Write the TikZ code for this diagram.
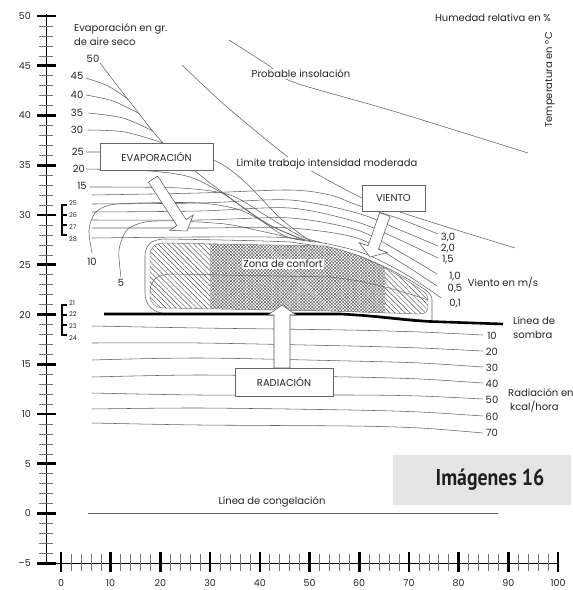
\documentclass[tikz,border=0pt]{standalone}
\usepackage{fontspec}
\setmainfont{Poppins}
\newfontfamily\stampfont[FakeStretch=0.86]{PT Sans}
\usetikzlibrary{patterns.meta}
\begin{document}
\begin{tikzpicture}[x=1pt,y=-1pt,
  gline/.style={draw=black!62,line width=0.55pt},
  lbl/.style={inner sep=0pt,font=\fontsize{10}{12}\selectfont,text=black!85},
  num/.style={inner sep=0pt,font=\fontsize{10}{12}\selectfont,text=black!85},
  axnum/.style={inner sep=0pt,font=\fontsize{9.5}{11}\selectfont,text=black!85},
  tinynum/.style={inner sep=0pt,font=\fontsize{6.5}{7}\selectfont,text=black!85},
  cutlbl/.style={lbl,fill=white,inner sep=1.5pt},
  tagbox/.style={draw=black!60,fill=white,line width=0.5pt,inner sep=0pt,font=\fontsize{10}{12}\selectfont,text=black!85},
  blockarr/.style={draw=black!65,fill=white,line width=0.55pt,line join=miter},
  majtick/.style={line width=2.6pt,black},
  mintick/.style={line width=0.5pt,black!55},
]
\useasboundingbox (0,0) rectangle (573,590);
\fill[white] (0,0) rectangle (573,590);

% ---------------- axes ----------------
\draw[line width=0.8pt] (46,14) -- (46,563.25);
\draw[line width=0.8pt] (46,563.25) -- (558,563.25);
\foreach \t in {-5,...,50}{\draw[mintick] (39,{513.5-9.95*\t}) -- (53,{513.5-9.95*\t});}
\foreach \t in {-5,0,5,...,50}{\draw[majtick] (37,{513.5-9.95*\t}) -- (56,{513.5-9.95*\t});}
\foreach \t in {0,5,...,50}{\node[axnum,anchor=east] (yl\t) at (31,{513.5-9.95*\t}) {\t};}
\node[axnum,anchor=east] (ylm5) at (31,563.25) {–5};
\foreach \h in {0,2,...,100}{\draw[mintick] ({61+4.97*\h},554) -- ({61+4.97*\h},571);}
\foreach \h in {0,10,...,100}{\draw[majtick] ({61+4.97*\h},552) -- ({61+4.97*\h},572);
  \node[axnum] (xl\h) at ({61+4.97*\h},583) {\h};}

% brackets
\draw[line width=1.8pt] (62,204) -- (62,236);
\foreach \yy in {205,215,225,235}{\draw[line width=1.3pt] (62,\yy) -- (67,\yy);}
\node[tinynum,anchor=west] (b25) at (69,203) {25};
\node[tinynum,anchor=west] (b26) at (69,215) {26};
\node[tinynum,anchor=west] (b27) at (69,227) {27};
\node[tinynum,anchor=west] (b28) at (69,239) {28};
\draw[line width=1.8pt] (62,304) -- (62,336);
\foreach \yy in {305,315,325,335}{\draw[line width=1.3pt] (62,\yy) -- (67,\yy);}
\node[tinynum,anchor=west] (b21) at (69,303) {21};
\node[tinynum,anchor=west] (b22) at (69,314) {22};
\node[tinynum,anchor=west] (b23) at (69,326) {23};
\node[tinynum,anchor=west] (b24) at (69,338) {24};

% ---------------- radiation lines ----------------
\draw[gline] plot[smooth] coordinates {(92,326) (200,328) (345,330) (420,332) (483,335)};
\draw[gline] plot[smooth] coordinates {(92,343) (200,343) (350,346) (420,348) (483,351)};
\draw[gline] plot[smooth] coordinates {(92,360) (200,358) (350,361) (420,363) (483,367)};
\draw[gline] plot[smooth] coordinates {(92,377) (200,375) (350,377) (420,379) (483,383)};
\draw[gline] plot[smooth] coordinates {(92,393) (200,395) (350,395) (420,396) (483,399)};
\draw[gline] plot[smooth] coordinates {(92,409) (200,408) (350,410) (420,412) (483,416)};
\draw[gline] plot[smooth] coordinates {(92,423) (200,425) (350,426) (420,428) (483,433)};
\node[num] (r10) at (492,336) {10};
\node[num] (r20) at (492,352) {20};
\node[num] (r30) at (492,368) {30};
\node[num] (r40) at (492,384) {40};
\node[num] (r50) at (492,400) {50};
\node[num] (r60) at (492,417) {60};
\node[num] (r70) at (492,433) {70};
\node[lbl,anchor=west] (radtitle) at (508,393) {Radiación en};
\node[lbl,anchor=west] (radunit) at (510,407) {kcal/hora};

% freezing line
\draw[gline] (88,513.5) -- (498,513.5);
\node[lbl] (congel) at (272,502) {Línea de congelación};

% ---------------- upper curves ----------------
\draw[gline] plot[smooth] coordinates {(229,40) (268,65) (293,82) (393,111) (528,153)};
\node[cutlbl] (insol) at (301,74) {Probable insolación};
\draw[gline] plot[smooth] coordinates {(182,65) (227,107) (288,157) (315,173) (360,197) (400,212) (450,228) (515,248)};
\node[cutlbl] (limite) at (327,164) {Límite trabajo intensidad moderada};

% evaporation curves
\draw[gline] plot[smooth] coordinates {(100,63) (130,102) (163,143) (200,175) (233,200) (268,224) (305,241)};
\draw[gline] plot[smooth] coordinates {(86,78) (108,86) (128,99)};
\draw[gline] plot[smooth] coordinates {(86,95) (113,101) (140,114)};
\draw[gline] plot[smooth] coordinates {(88,113) (123,118) (153,131)};
\draw[gline] plot[smooth] coordinates {(88,130) (125,132) (163,143)};
\draw[gline] plot[smooth] coordinates {(86,152) (160,153) (213,160) (245,182) (280,218) (310,241)};
\draw[gline] plot[smooth] coordinates {(86,169) (150,171) (190,177) (222,193) (252,214) (285,236) (315,242)};
\draw[gline] plot[smooth] coordinates {(90,187) (180,188) (230,195) (265,215) (300,236) (320,242)};
\draw[gline] plot[smooth] coordinates {(92,253) (89,230) (95,213) (110,205) (140,203) (200,203) (240,210) (275,228) (305,240)};
\draw[gline] plot[smooth] coordinates {(121,277) (119,250) (127,230) (145,222) (175,221) (225,224) (265,232) (300,240)};
\node[num] (e50) at (93,59) {50};
\node[num] (e45) at (77,76) {45};
\node[num] (e40) at (77,95) {40};
\node[num] (e35) at (77,113) {35};
\node[num] (e30) at (77,130) {30};
\node[num] (e25) at (78,152) {25};
\node[num] (e20) at (79,169) {20};
\node[num] (e15) at (82,186) {15};
\node[num] (e10) at (92,262) {10};
\node[num] (e05) at (121,283) {5};
\node[lbl,anchor=west] (evt1) at (74,29) {Evaporación en gr.};
\node[lbl,anchor=west] (evt2) at (74,42) {de aire seco};

% wind lines
\draw[gline] plot[smooth] coordinates {(92,195) (200,193) (290,190) (330,195) (357,205) (400,219) (438,234)};
\draw[gline] plot[smooth] coordinates {(92,204) (200,203) (290,200) (357,213) (400,230) (438,246)};
\draw[gline] plot[smooth] coordinates {(92,212) (200,211) (290,208) (357,222) (400,240) (438,258)};
\draw[gline] plot[smooth] coordinates {(92,220) (200,220) (290,218) (357,230) (400,252) (437,274)};
\draw[gline] plot[smooth] coordinates {(92,228) (200,228) (290,228) (357,238) (400,262) (437,286)};
\draw[gline] plot[smooth] coordinates {(92,238) (200,237) (290,238) (357,251) (400,271) (430,290) (441,298)};
\node[num] (w30) at (448,238) {3,0};
\node[num] (w20) at (448,249) {2,0};
\node[num] (w15) at (448,260) {1,5};
\node[num] (w10) at (455,277) {1,0};
\node[num] (w05) at (455,289) {0,5};
\node[num] (w01) at (455,304) {0,1};
\node[lbl] (vientotitle) at (503,283) {Viento en m/s};

% ---------------- comfort zone ----------------
\def\cfzouter{(165,239) .. controls (230,240) and (270,241) .. (290,242) .. controls (320,246) and (340,250) .. (357,255) .. controls (380,264) and (405,276) .. (424,289) .. controls (430,293) and (432,296) .. (432,300) -- (432,321) .. controls (400,318) and (370,314) .. (340,314) -- (168,314) .. controls (152,313) and (145,305) .. (145,292) -- (145,256) .. controls (145,245) and (152,239) .. (165,239) -- cycle}
\def\cfzinner{(150,256) .. controls (150,247) and (155,243) .. (165,243) -- (325,246) .. controls (365,254) and (400,275) .. (424,292) .. controls (428,295) and (428,298) .. (428,303) -- (428,307) .. controls (428,312) and (425,314) .. (419,314) -- (330,311) -- (165,308) .. controls (155,308) and (150,303) .. (150,296) -- cycle}
\filldraw[fill=white,draw=black!62,line width=0.55pt] \cfzouter;
\fill[pattern={Lines[angle=-45,distance=3.6pt,line width=0.45pt]},pattern color=black!70] \cfzinner;
\begin{scope}
  \clip \cfzinner;
  \fill[white] (210,230) rectangle (385,320);
  \fill[pattern={Lines[angle=45,distance=2.3pt,line width=0.35pt]},pattern color=black!75] (210,230) rectangle (385,320);
  \fill[pattern={Lines[angle=-45,distance=2.3pt,line width=0.35pt]},pattern color=black!75] (210,230) rectangle (385,320);
\end{scope}
\draw[draw=black!55,line width=0.45pt] \cfzinner;
\draw[draw=black!60,line width=0.5pt] (150,292) .. controls (150,280) and (158,274) .. (172,274) -- (330,277) .. controls (360,280) and (390,287) .. (428,300);
\node[inner sep=1.2pt,fill=white,font=\fontsize{10}{12}\selectfont,text=black!85] (zona) at (283,264) {Zona de confort};

% shadow line
\draw[line width=2.6pt] (104,314) -- (340,314) .. controls (380,316) and (400,320) .. (430,321.5) -- (503,324);
\node[lbl,anchor=west] (sombra1) at (513,321) {Línea de};
\node[lbl,anchor=west] (sombra2) at (513,335) {sombra};

% ---------------- boxes and block arrows ----------------
\node[tagbox,minimum width=113pt,minimum height=27pt] (evapbox) at (156.5,156.5) {EVAPORACIÓN};
\node[tagbox,minimum width=63pt,minimum height=26pt] (vientobox) at (393.5,198) {VIENTO};
\node[tagbox,minimum width=98pt,minimum height=28pt] (radbox) at (284,382) {RADIACIÓN};

\begin{scope}[shift={(187,231)},rotate=-56.8]
  \draw[blockarr] (0,0) -- (-10,14) -- (-10,5.5) -- (-62,5.5) -- (-62,-5.5) -- (-10,-5.5) -- (-10,-14) -- cycle;
\end{scope}
\begin{scope}[shift={(370,257)},rotate=-109.3]
  \draw[blockarr] (0,0) -- (-10,15) -- (-10,5.5) -- (-45,5.5) -- (-45,-5.5) -- (-10,-5.5) -- (-10,-15) -- cycle;
\end{scope}
\begin{scope}[shift={(282,305)},rotate=90]
  \draw[blockarr] (0,0) -- (-10,14) -- (-10,8) -- (-63,8) -- (-63,-8) -- (-10,-8) -- (-10,-14) -- cycle;
\end{scope}

% ---------------- titles ----------------
\node[lbl] (hum) at (493,18) {Humedad relativa en \%};
\node[lbl,rotate=90] (temp) at (550,80) {Temperatura en °C};

\fill[black!10] (393,455) rectangle (571,505);
\node[inner sep=0pt,font=\stampfont\bfseries\fontsize{23}{26}\selectfont,text=black!88] (stamp) at (490,480) {Imágenes 16};
\end{tikzpicture}
\end{document}
